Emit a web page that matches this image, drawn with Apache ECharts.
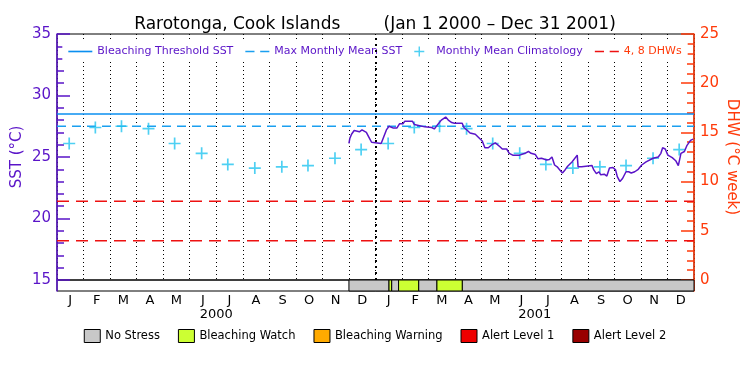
<!DOCTYPE html>
<html>
<head>
<meta charset="utf-8">
<title>Rarotonga SST</title>
<script src="https://cdn.jsdelivr.net/npm/echarts@6/dist/echarts.min.js"></script>
<style>
  html, body { margin: 0; padding: 0; background: #fff; }
  #chart { width: 750px; height: 375px; }
</style>
</head>
<body>
<div id="chart"></div>
<script>
// 数据
var monthLabels = ['J', 'F', 'M', 'A', 'M', 'J', 'J', 'A', 'S', 'O', 'N', 'D',
                   'J', 'F', 'M', 'A', 'M', 'J', 'J', 'A', 'S', 'O', 'N', 'D'];
var yearLabels = ['2000', '2001'];

var sstDates = [
  '2000-12-01', '2000-12-02', '2000-12-04', '2000-12-07', '2000-12-09', '2000-12-13',
  '2000-12-16', '2000-12-18', '2000-12-21', '2000-12-24', '2000-12-27', '2000-12-29',
  '2001-01-07', '2001-01-10', '2001-01-13', '2001-01-16', '2001-01-18', '2001-01-21',
  '2001-01-25', '2001-01-28', '2001-02-01', '2001-02-03', '2001-02-12', '2001-02-14',
  '2001-02-16', '2001-02-26', '2001-03-06', '2001-03-09', '2001-03-10', '2001-03-13',
  '2001-03-17', '2001-03-22', '2001-03-25', '2001-03-29', '2001-04-01', '2001-04-10',
  '2001-04-12', '2001-04-16', '2001-04-19', '2001-04-25', '2001-04-30', '2001-05-03',
  '2001-05-06', '2001-05-10', '2001-05-14', '2001-05-18', '2001-05-23', '2001-05-26',
  '2001-05-31', '2001-06-03', '2001-06-07', '2001-06-15', '2001-06-17', '2001-06-21',
  '2001-06-25', '2001-06-28', '2001-07-03', '2001-07-06', '2001-07-10', '2001-07-16',
  '2001-07-19', '2001-07-22', '2001-07-25', '2001-07-28', '2001-07-31', '2001-08-03',
  '2001-08-06', '2001-08-09', '2001-08-14', '2001-08-20', '2001-08-21', '2001-08-25',
  '2001-08-30', '2001-09-06', '2001-09-08', '2001-09-11', '2001-09-14', '2001-09-16',
  '2001-09-17', '2001-09-20', '2001-09-23', '2001-09-26', '2001-09-30', '2001-10-03',
  '2001-10-05', '2001-10-08', '2001-10-11', '2001-10-15', '2001-10-18', '2001-10-21',
  '2001-10-25', '2001-10-29', '2001-11-02', '2001-11-07', '2001-11-15', '2001-11-21',
  '2001-11-24', '2001-11-26', '2001-11-29', '2001-12-02', '2001-12-07', '2001-12-11',
  '2001-12-14', '2001-12-16', '2001-12-17', '2001-12-21', '2001-12-24', '2001-12-28',
  '2001-12-31'
];
var sstValues = [
  26.1, 26.5, 26.85, 27.15, 27.05, 27.05,
  27.2, 27.2, 27.0, 26.6, 26.2, 26.1,
  26.1, 26.65, 27.2, 27.5, 27.6, 27.35,
  27.35, 27.7, 27.7, 27.9, 27.9, 27.65,
  27.5, 27.45, 27.4, 27.28, 27.28, 27.65,
  28.0, 28.25, 28.0, 27.8, 27.75, 27.75,
  27.4, 27.15, 26.95, 26.85, 26.5, 26.3,
  25.75, 25.75, 26.0, 26.15, 25.85, 25.65,
  25.65, 25.3, 25.15, 25.15, 25.2, 25.3,
  25.45, 25.3, 25.2, 24.85, 24.9, 24.75,
  24.8, 25.0, 24.35, 24.2, 23.95, 23.7,
  23.95, 24.25, 24.6, 25.15, 24.2, 24.2,
  24.25, 24.3, 23.95, 23.65, 23.8, 23.55,
  23.4, 23.6, 23.45, 24.1, 24.15, 23.95,
  23.4, 23.0, 23.25, 23.8, 23.8, 23.7,
  23.8, 24.0, 24.35, 24.6, 24.9, 25.0,
  25.3, 25.75, 25.65, 25.15, 24.95, 24.7,
  24.3, 24.95, 25.3, 25.45, 25.95, 26.35,
  26.45
];

// 月平均气候值（每年相同）
var climYears = ['2000', '2001'];
var climMonthDays = ['01-15', '02-14', '03-15', '04-15', '05-15', '06-15',
                     '07-15', '08-15', '09-15', '10-15', '11-15', '12-15'];
var climValues = [26.1, 27.4, 27.5, 27.3, 26.1, 25.3, 24.4, 24.1, 24.2, 24.3, 24.9, 25.6];

var bleachingThreshold = 28.5;
var maxMonthlyMean = 27.5;
var dhwLevels = [4, 8];

// 珊瑚白化状态条
var statusNames = ['No Stress', 'Bleaching Watch', 'Bleaching Warning', 'Alert Level 1', 'Alert Level 2'];
var statusColors = ['#c8c8c8', '#ccff33', '#ffaa00', '#ee0000', '#990000'];
var statusStart = ['2000-12-01', '2001-01-16', '2001-01-19', '2001-01-27', '2001-02-19', '2001-03-12', '2001-04-10'];
var statusEnd   = ['2001-01-16', '2001-01-19', '2001-01-27', '2001-02-19', '2001-03-12', '2001-04-10', '2002-01-01'];
var statusLevel = [0, 1, 0, 1, 0, 1, 0];

var xMin = '2000-01-01', xMax = '2002-01-01';

var purple = '#5a14c8';
var orange = '#ff3a0a';
var font = 'DejaVu Sans';

var sstData = sstDates.map(function (d, i) { return [d, sstValues[i]]; });
var climData = [];
climYears.forEach(function (y) {
  climMonthDays.forEach(function (md, i) { climData.push([y + '-' + md, climValues[i]]); });
});
var dhwData = [];
dhwLevels.forEach(function (v, i) {
  if (i > 0) dhwData.push([xMax, '-']);
  dhwData.push([xMin, v], [xMax, v]);
});

var statusSeries = statusNames.map(function (name, k) {
  var data = [];
  statusLevel.forEach(function (lv, i) {
    if (lv === k) data.push([statusStart[i], statusEnd[i]]);
  });
  return {
    name: name,
    type: 'custom',
    xAxisIndex: 2,
    yAxisIndex: 2,
    color: statusColors[k],
    dimensions: [{ name: 'start', type: 'time' }, { name: 'end', type: 'time' }],
    encode: { x: [0, 1] },
    renderItem: function (params, api) {
      var p0 = api.coord([api.value(0), 1]);
      var p1 = api.coord([api.value(1), 0]);
      return {
        type: 'rect',
        shape: { x: p0[0], y: p0[1], width: p1[0] - p0[0], height: p1[1] - p0[1] },
        style: { fill: api.visual('color'), stroke: '#000', lineWidth: 1 }
      };
    },
    data: data
  };
});

var dashIcon = 'path://M0,0h8v1.5h-8z M13,0h8v1.5h-8z';
var lineIcon = 'path://M0,0h22v1.5h-22z';
var plusIcon = 'path://M4.3,0h1.4v10h-1.4z M0,4.3h10v1.4h-10z';

var yAxisCommon = function (color) {
  return {
    type: 'value',
    axisLine: { show: true, lineStyle: { color: color, width: 1.5 } },
    axisTick: { show: true, inside: true, length: 13, lineStyle: { color: color, width: 1.5 } },
    minorTick: { show: true, splitNumber: 5, length: 7, lineStyle: { color: color, width: 1.5 } },
    splitLine: { show: false },
    axisLabel: { color: color, fontSize: 15, fontFamily: font, margin: 6 },
    nameLocation: 'middle',
    nameMoveOverlap: false,
    nameTextStyle: { color: color, fontSize: 15, fontFamily: font }
  };
};

var leftAxis = Object.assign(yAxisCommon(purple), {
  gridIndex: 0, position: 'left', min: 15, max: 35, interval: 5,
  name: 'SST (°C)', nameGap: 32
});
var rightAxis = Object.assign(yAxisCommon(orange), {
  gridIndex: 0, position: 'right', min: 0, max: 25, interval: 5,
  name: 'DHW (°C week)', nameGap: 30, nameRotate: -90
});

var option = {
  animation: false,
  backgroundColor: '#fff',
  title: {
    text: 'Rarotonga, Cook Islands        (Jan 1 2000 \u2013 Dec 31 2001)',
    left: 'center',
    top: 11,
    textStyle: { color: '#000', fontSize: 17, fontWeight: 'normal', fontFamily: font }
  },
  legend: [
    {
      top: 41,
      left: 'center',
      padding: [5, 6],
      backgroundColor: '#fff',
      itemWidth: 24,
      itemHeight: 10,
      itemGap: 12,
      textStyle: { color: purple, fontSize: 11, fontFamily: font },
      data: [
        { name: 'Bleaching Threshold SST', icon: lineIcon },
        { name: 'Max Monthly Mean SST', icon: dashIcon },
        { name: 'Monthly Mean Climatology', icon: plusIcon },
        { name: '4, 8 DHWs', icon: dashIcon, textStyle: { color: orange } }
      ]
    },
    {
      top: 324,
      left: 'center',
      itemWidth: 16,
      itemHeight: 13,
      itemGap: 18,
      icon: 'rect',
      itemStyle: { borderColor: '#000', borderWidth: 1 },
      textStyle: { color: '#000', fontSize: 11.5, fontFamily: font },
      data: statusNames
    }
  ],
  grid: [
    { left: 57, right: 56, top: 34, height: 246, show: true, borderColor: '#000', borderWidth: 1, outerBoundsMode: 'none' },
    { left: 57, right: 56, top: 280, height: 11, show: true, borderColor: '#000', borderWidth: 1, outerBoundsMode: 'none' }
  ],
  xAxis: [
    {
      gridIndex: 0, type: 'category', data: monthLabels, position: 'bottom',
      axisLine: { show: false }, axisTick: { show: false }, axisLabel: { show: false },
      splitLine: { show: true, interval: 0, lineStyle: { color: '#000', width: 1, type: [1, 3] } }
    },
    { gridIndex: 0, type: 'time', min: xMin, max: xMax, show: false },
    { gridIndex: 1, type: 'time', min: xMin, max: xMax, show: false },
    {
      gridIndex: 1, type: 'category', data: monthLabels, position: 'bottom',
      axisLine: { show: false }, axisTick: { show: false }, splitLine: { show: false },
      axisLabel: { interval: 0, color: '#000', fontSize: 13, fontFamily: font, margin: 3 }
    },
    {
      gridIndex: 1, type: 'category', data: yearLabels, position: 'bottom', offset: 13,
      axisLine: { show: false }, axisTick: { show: false }, splitLine: { show: false },
      axisLabel: { interval: 0, color: '#000', fontSize: 13, fontFamily: font, margin: 4 }
    }
  ],
  yAxis: [
    leftAxis,
    rightAxis,
    { gridIndex: 1, type: 'value', min: 0, max: 1, position: 'left',
      axisLine: { show: true, lineStyle: { color: purple, width: 1.5 } },
      axisTick: { show: false }, axisLabel: { show: false }, splitLine: { show: false } },
    { gridIndex: 1, type: 'value', min: 0, max: 1, position: 'right',
      axisLine: { show: true, lineStyle: { color: orange, width: 1.5 } },
      axisTick: { show: false }, axisLabel: { show: false }, splitLine: { show: false } }
  ],
  series: [
    {
      name: 'Bleaching Threshold SST', type: 'line', xAxisIndex: 1, yAxisIndex: 0,
      color: '#0a8ff0', showSymbol: false, silent: true, z: 2,
      lineStyle: { color: '#0a8ff0', width: 1.5 },
      data: [[xMin, bleachingThreshold], [xMax, bleachingThreshold]]
    },
    {
      name: 'Max Monthly Mean SST', type: 'line', xAxisIndex: 1, yAxisIndex: 0,
      color: '#1a9ff0', showSymbol: false, silent: true, z: 2,
      lineStyle: { color: '#1a9ff0', width: 1.5, type: [9, 6] },
      data: [[xMin, maxMonthlyMean], [xMax, maxMonthlyMean]]
    },
    {
      name: '4, 8 DHWs', type: 'line', xAxisIndex: 1, yAxisIndex: 1,
      color: '#ee1111', showSymbol: false, silent: true, z: 2,
      lineStyle: { color: '#ee1111', width: 1.5, type: [12, 7] },
      data: dhwData
    },
    {
      name: 'Monthly Mean Climatology', type: 'scatter', xAxisIndex: 1, yAxisIndex: 0,
      color: '#22c4f0', symbol: plusIcon, symbolSize: 12, z: 2,
      data: climData
    },
    {
      name: 'SST', type: 'line', xAxisIndex: 1, yAxisIndex: 0,
      color: purple, showSymbol: false, z: 3,
      lineStyle: { color: purple, width: 1.5 },
      data: sstData,
      markLine: {
        silent: true, symbol: 'none', label: { show: false },
        lineStyle: { color: '#000', width: 2, type: [2, 4] },
        data: [{ xAxis: '2001-01-01' }]
      }
    }
  ].concat(statusSeries)
};

var myChart = echarts.init(document.getElementById('chart'));
myChart.setOption(option);
window.addEventListener('resize', function () {
  myChart.resize();
});
</script>
</body>
</html>
